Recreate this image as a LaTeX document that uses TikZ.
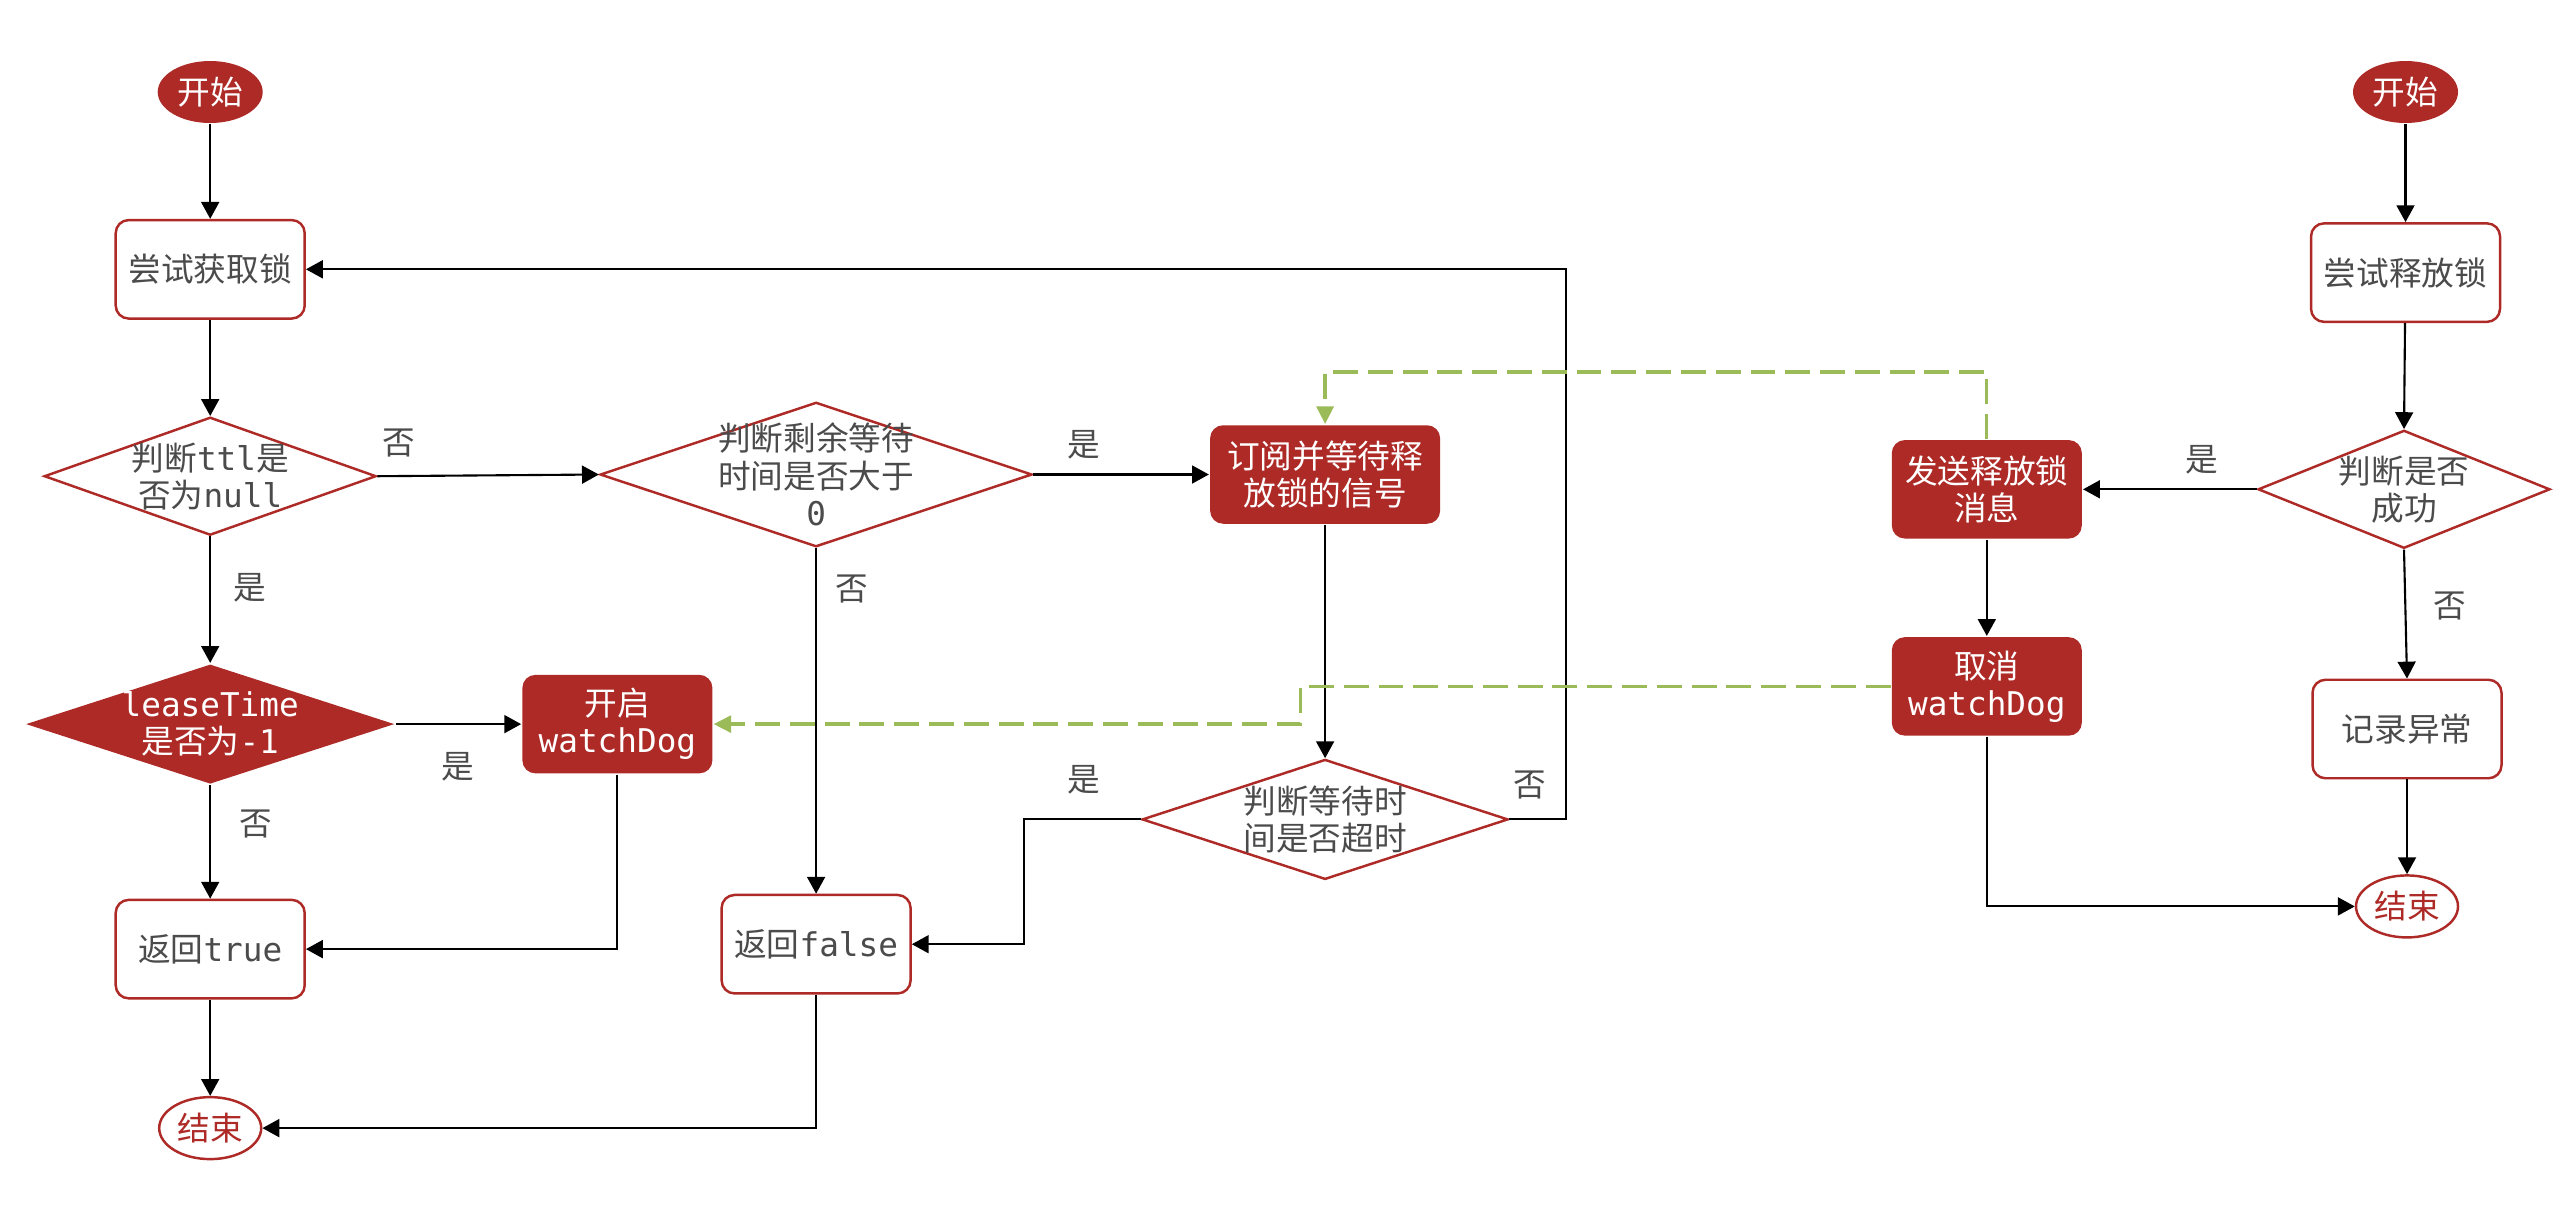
\documentclass[tikz,border=0pt]{standalone}
\usepackage{fontspec}
\setmainfont{Noto Sans CJK SC}
\newfontfamily\monofont{DejaVu Sans Mono}
\usetikzlibrary{shapes.geometric, arrows.meta, positioning, calc}
\definecolor{lockRed}{HTML}{AD2A27}
\definecolor{signalGreen}{HTML}{9BBB59}
\definecolor{textGray}{HTML}{4B4B4B}
\newcommand{\tcode}[1]{{\monofont #1}}
\tikzset{
  base/.style={font=\fontsize{9.3}{10.6}\selectfont, align=center},
  startnode/.style={base, ellipse, fill=lockRed, text=white, inner sep=0pt,
                    minimum width=1.05cm, minimum height=0.62cm},
  endnode/.style={base, ellipse, draw=lockRed, line width=0.7pt, fill=white, text=lockRed,
                  inner sep=0pt, minimum width=1.02cm, minimum height=0.62cm},
  proc/.style={base, draw=lockRed, line width=0.7pt, rounded corners=3.7pt, fill=white,
               text=textGray, inner sep=2pt, minimum width=1.89cm, minimum height=0.985cm},
  procred/.style={proc, draw=none, fill=lockRed, text=white, minimum width=#1},
  procred/.default=1.9cm,
  decision/.style 2 args={diamond, draw=lockRed, line width=0.7pt, fill=white, inner sep=0pt,
                          minimum width=#1, minimum height=#2},
  dtext/.style={base, text=textGray},
  lbl/.style={base, text=textGray, inner sep=1pt},
  flow/.style={-{Triangle[length=4.8pt,width=5.1pt]}, line width=0.6pt},
  signal/.style={-{Triangle[length=5pt,width=4.8pt]}, draw=signalGreen, line width=0.95pt,
                 dash pattern=on 7.1pt off 2.8pt},
}

\begin{document}
\begin{tikzpicture}
\useasboundingbox (0,0) rectangle (25.75,-12.09);

% acquire lock
\node[startnode] (start1) at (2.102,-0.920) {开始};
\node[proc] (try1) at (2.102,-2.693) {尝试获取锁};
\node[decision={3.32cm}{1.18cm}, label={[dtext]center:判断\tcode{ttl}是\\否为\tcode{null}}] (ttl) at (2.102,-4.762) {};
\node[decision={3.69cm}{1.20cm}, draw=none, fill=lockRed,
      label={[dtext, text=white]center:\tcode{leaseTime}\\是否为\tcode{-1}}] (lease) at (2.102,-7.241) {};
\node[procred] (wdon) at (6.174,-7.241) {开启\\\tcode{watchDog}};
\node[proc] (rettrue) at (2.102,-9.491) {返回\tcode{true}};
\node[endnode] (end1) at (2.102,-11.281) {结束};
\node[decision={4.32cm}{1.445cm}, label={[dtext]center:判断剩余等待\\时间是否大于\\\tcode{0}}] (wait) at (8.161,-4.745) {};
\node[proc] (retfalse) at (8.161,-9.442) {返回\tcode{false}};
\node[procred=2.30cm] (sub) at (13.251,-4.745) {订阅并等待释\\放锁的信号};
\node[decision={3.66cm}{1.20cm}, label={[dtext]center:判断等待时\\间是否超时}] (timeout) at (13.251,-8.194) {};

% release lock
\node[startnode] (start2) at (24.055,-0.920) {开始};
\node[proc] (try2) at (24.055,-2.726) {尝试释放锁};
\node[decision={2.92cm}{1.18cm}, label={[dtext]center:判断是否\\成功}] (ok) at (24.040,-4.893) {};
\node[procred] (send) at (19.868,-4.893) {发送释放锁\\消息};
\node[procred] (cancel) at (19.868,-6.864) {取消\\\tcode{watchDog}};
\node[proc] (log) at (24.070,-7.290) {记录异常};
\node[endnode] (end2) at (24.070,-9.064) {结束};

% connectors
\draw[flow] (start1) -- (try1);
\draw[flow] (try1) -- (ttl);
\draw[flow] (ttl.east) -- (wait.west);
\draw[flow] (ttl.south) -- (lease.north);
\draw[flow] (lease.east) -- (wdon.west);
\draw[flow] (lease.south) -- (rettrue.north);
\draw[flow] (wdon.south) |- (rettrue.east);
\draw[flow] (rettrue) -- (end1);
\draw[flow] (wait.east) -- (sub.west);
\draw[flow] (wait.south) -- (retfalse.north);
\draw[flow] (retfalse.south) |- (end1.east);
\draw[flow] (sub) -- (timeout.north);
\draw[flow] (timeout.west) -- ++(-1.17,0) |- (retfalse.east);
\draw[flow] (timeout.east) -- ++(0.57,0) |- (try1.east);

\draw[flow] (start2) -- (try2);
\draw[flow] (try2) -- (ok.north);
\draw[flow] (ok.west) -- (send.east);
\draw[flow] (ok.south) -- (log.north);
\draw[flow] (log) -- (end2);
\draw[flow] (send) -- (cancel);
\draw[flow] (cancel.south) |- (end2.west);

% unlock signal
\draw[signal] (send.north) -- ++(0,0.67) -| (sub.north);
\draw[signal] (cancel.west) -- ++(-5.90,0) |- (wdon.east);

% branch labels
\node[lbl] (l1) at (3.99,-4.43) {否};
\node[lbl] (l2) at (2.50,-5.88) {是};
\node[lbl] (l3) at (4.58,-7.67) {是};
\node[lbl] (l4) at (2.56,-8.24) {否};
\node[lbl] (l5) at (10.84,-4.45) {是};
\node[lbl] (l6) at (8.52,-5.89) {否};
\node[lbl] (l7) at (10.84,-7.80) {是};
\node[lbl] (l8) at (15.30,-7.85) {否};
\node[lbl] (l9) at (22.02,-4.60) {是};
\node[lbl] (l10) at (24.50,-6.06) {否};
\end{tikzpicture}
\end{document}
